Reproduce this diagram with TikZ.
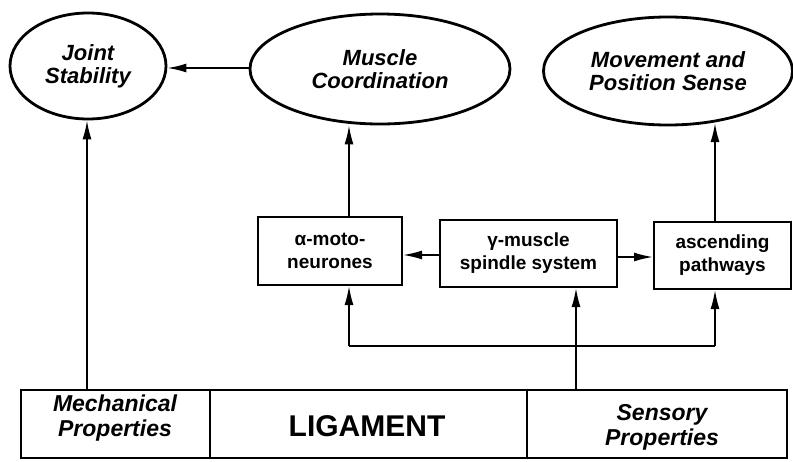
\documentclass[tikz,border=0pt]{standalone}
\usepackage{fontspec}
\setmainfont{Liberation Sans}
\usetikzlibrary{shapes.geometric,arrows.meta}
\tikzset{
  oval/.style={draw,line width=2.8pt,ellipse,inner sep=0pt,align=center,
    font=\fontsize{22}{23}\selectfont\bfseries\itshape},
  midbox/.style={draw,line width=2pt,rectangle,inner sep=0pt,align=center,
    font=\fontsize{19}{23}\selectfont\bfseries},
  basebox/.style={draw,line width=2.2pt,rectangle,inner sep=0pt,align=center},
  prop/.style={font=\fontsize{23}{25}\selectfont\bfseries\itshape,align=center},
  conn/.style={line width=1.7pt,-{Latex[length=19pt,width=9pt]}},
  plain/.style={line width=1.7pt}
}
\begin{document}
\begin{tikzpicture}[x=1pt,y=-1pt]
\useasboundingbox (0,0) rectangle (793,461);
% ellipses
\node[oval,minimum width=156pt,minimum height=106pt] (joint) at (88,66) {Joint\\Stability};
\node[oval,minimum width=260pt,minimum height=110pt] (muscle) at (380,69) {Muscle\\Coordination};
\node[oval,minimum width=249pt,minimum height=108pt] (move) at (668,71) {Movement and\\Position Sense};
% middle boxes
\node[midbox,minimum width=144pt,minimum height=68pt] (alpha) at (330,251) {α-moto-\\neurones};
\node[midbox,minimum width=177pt,minimum height=67pt] (gamma) at (528.5,253.5) {γ-muscle\\spindle system};
\node[midbox,minimum width=137pt,minimum height=67pt] (asc) at (722.5,255.5) {ascending\\pathways};
% base boxes
\node[basebox,minimum width=189pt,minimum height=68pt] (mech) at (115.5,424) {};
\node[basebox,minimum width=317pt,minimum height=68pt] (lig) at (368.5,424) {};
\node[basebox,minimum width=260pt,minimum height=68pt] (sens) at (657,424) {};
\node[prop] (mechtxt) at (115,418) {Mechanical\\Properties};
\node[font=\fontsize{30}{32}\selectfont\bfseries] (ligtxt) at (367,426) {LIGAMENT};
\node[prop] (senstxt) at (662,427) {Sensory\\Properties};
% connectors
\draw[conn] (muscle.west |- 0,68) -- (joint.east |- 0,68);
\draw[conn] (mech.north -| 87,0) -- (joint.south -| 87,0);
\draw[conn] (alpha.north -| 349,0) -- (muscle.south -| 349,0);
\coordinate (asctop) at (715,222);
\coordinate (movebot) at (715,123);
\draw[conn] (asctop) -- (movebot);
\draw[conn] (gamma.west |- 0,255) -- (alpha.east |- 0,255);
\draw[conn] (gamma.east |- 0,257) -- (asc.west |- 0,257);
\coordinate (j) at (576,346);
\coordinate (jl) at (349,346);
\coordinate (jr) at (715,346);
\draw[conn] (sens.north -| j) -- (gamma.south -| j);
\draw[plain] (jl) -- (jr);
\draw[conn] (jl) -- (alpha.south -| jl);
\draw[conn] (jr) -- (asc.south -| jr);
\end{tikzpicture}
\end{document}
